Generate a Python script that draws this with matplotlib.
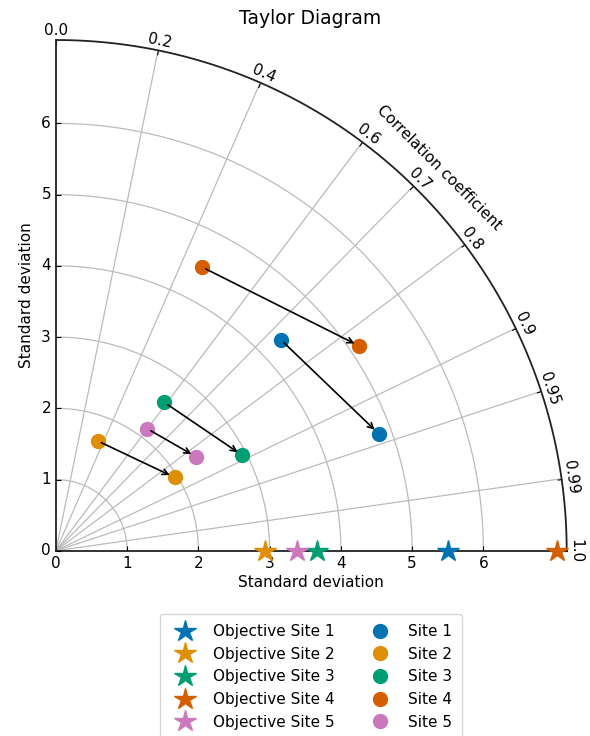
import numpy as np
import matplotlib
matplotlib.use("Agg")
import matplotlib.pyplot as plt
from matplotlib.projections import PolarAxes
import mpl_toolkits.axisartist.floating_axes as floating_axes
import mpl_toolkits.axisartist.grid_finder as grid_finder

# ---- data ----
sites = ["Site 1", "Site 2", "Site 3", "Site 4", "Site 5"]
objective_labels = ["Objective Site 1", "Objective Site 2", "Objective Site 3",
                    "Objective Site 4", "Objective Site 5"]
objective_std = [5.50, 2.93, 3.67, 7.04, 3.38]
start_std = [4.33, 1.65, 2.58, 4.48, 2.14]
start_corr = [0.730, 0.355, 0.590, 0.458, 0.599]
end_std = [4.82, 1.96, 2.94, 5.14, 2.37]
end_corr = [0.940, 0.851, 0.890, 0.829, 0.831]
corr_ticks = [0.0, 0.2, 0.4, 0.6, 0.7, 0.8, 0.9, 0.95, 0.99, 1.0]
std_ticks = [0, 1, 2, 3, 4, 5, 6]
colors = ["#0173b2", "#de8f05", "#029e73", "#d55e00", "#cc78bc"]

smax = 7.17
FS = 11

fig = plt.figure(figsize=(5.9, 7.36), dpi=100)

tr = PolarAxes.PolarTransform()
rlocs = np.array(corr_ticks)
tlocs = np.arccos(rlocs)
gl1 = grid_finder.FixedLocator(tlocs)
tf1 = grid_finder.DictFormatter(dict(zip(tlocs, [str(v) for v in corr_ticks])))
gl2 = grid_finder.FixedLocator(std_ticks)
tf2 = grid_finder.DictFormatter({v: str(v) for v in std_ticks})

ghelper = floating_axes.GridHelperCurveLinear(
    tr, extremes=(0, np.pi / 2, 0, smax),
    grid_locator1=gl1, tick_formatter1=tf1,
    grid_locator2=gl2, tick_formatter2=tf2)

W = 521.0
left_px = 56 - 5.2
bottom_px = 550.7 + 5.2
ax = floating_axes.FloatingAxes(fig, [left_px / 590, 1 - bottom_px / 736, W / 590, W / 736],
                                grid_helper=ghelper)
fig.add_axes(ax)

ax.axis["top"].set_axis_direction("bottom")
ax.axis["top"].toggle(ticklabels=True, label=True)
ax.axis["top"].major_ticklabels.set_axis_direction("top")
ax.axis["top"].label.set_axis_direction("top")
ax.axis["top"].label.set_text("Correlation coefficient")

ax.axis["left"].set_axis_direction("bottom")
ax.axis["left"].label.set_text("Standard deviation")

ax.axis["right"].set_axis_direction("top")
ax.axis["right"].toggle(ticklabels=True, label=True)
ax.axis["right"].major_ticklabels.set_axis_direction("left")
ax.axis["right"].label.set_axis_direction("left")
ax.axis["right"].label.set_text("Standard deviation")

ax.axis["bottom"].set_visible(False)

for k in ["top", "left", "right"]:
    ax.axis[k].major_ticklabels.set_fontsize(FS)
    ax.axis[k].label.set_fontsize(FS)
    ax.axis[k].line.set_linewidth(1.3)
    ax.axis[k].line.set_color("#222222")

ax.grid(True, color="#bbbbbb", linewidth=0.9)

aux = ax.get_aux_axes(tr)

handles = []
for i in range(5):
    h, = aux.plot(0, objective_std[i], marker="*", ms=16, ls="", color=colors[i],
                  label=objective_labels[i], clip_on=False, zorder=10)
    handles.append(h)
for i in range(5):
    ts, te = np.arccos(start_corr[i]), np.arccos(end_corr[i])
    h, = aux.plot(ts, start_std[i], marker="o", ms=10, ls="", color=colors[i],
                  label=sites[i], zorder=5)
    aux.plot(te, end_std[i], marker="o", ms=10, ls="", color=colors[i], zorder=5)
    aux.annotate("", xy=(te, end_std[i]), xytext=(ts, start_std[i]),
                 arrowprops=dict(arrowstyle="->", color="black", lw=1.2,
                                 shrinkA=3, shrinkB=4), zorder=6)
    handles.append(h)

fig.text(310 / 590, 1 - 18 / 736, "Taylor Diagram", ha="center", va="center", fontsize=13.5)

fig.legend(handles=handles, loc="upper center", ncol=2,
           bbox_to_anchor=(311 / 590, 1 - 606.5 / 736), fontsize=FS,
           columnspacing=2.0, borderpad=0.65)

fig.savefig("out.png", dpi=100)
